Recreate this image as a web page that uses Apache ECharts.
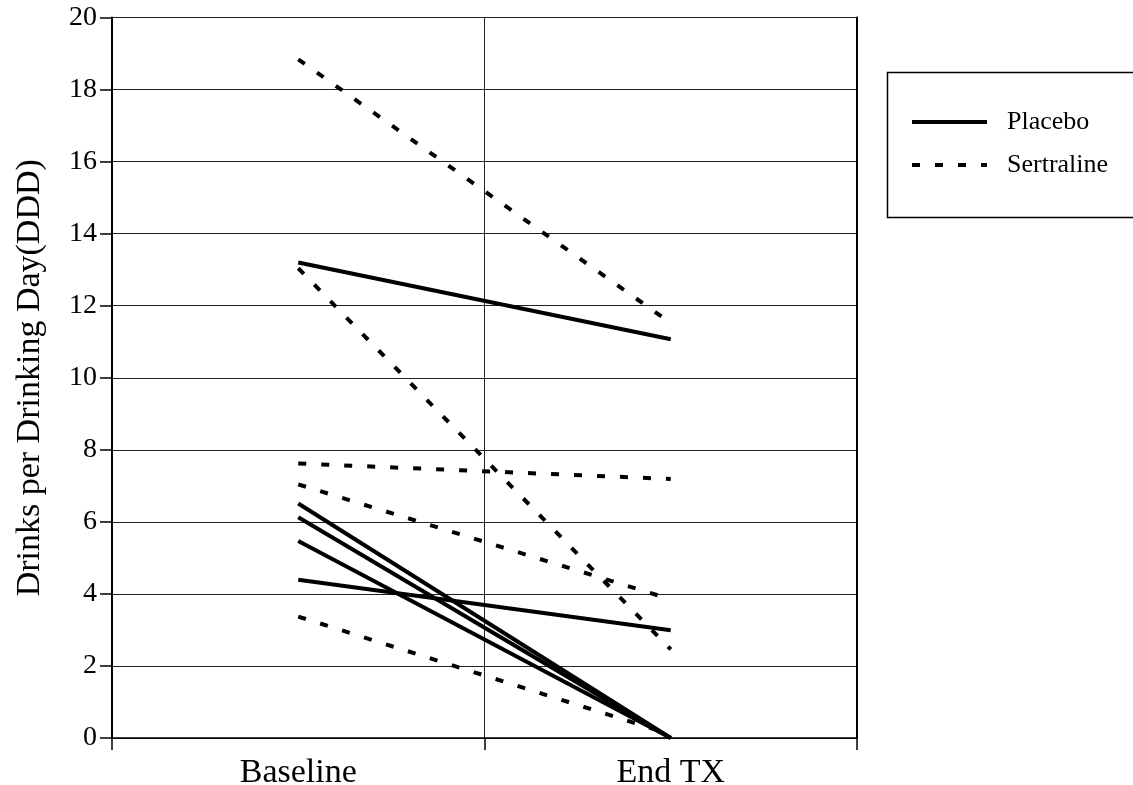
<!DOCTYPE html>
<html>
<head>
<meta charset="utf-8">
<script src="https://cdn.jsdelivr.net/npm/echarts@6/dist/echarts.min.js"></script>
<style>html,body{margin:0;padding:0;background:#fff}#c{width:1133px;height:785px}</style>
</head>
<body>
<div id="c"></div>
<script>
const categories = ['Baseline', 'End TX'];
const placeboBaseline = [13.2, 6.51, 6.13, 5.47, 4.39];
const placeboEnd = [11.07, 0, 0, 0, 2.99];
const sertralineBaseline = [18.84, 13.04, 7.62, 7.04, 3.37];
const sertralineEnd = [11.52, 2.46, 7.19, 3.85, 0.1];
const yMin = 0, yMax = 20, yStep = 2;
const yAxisTitle = 'Drinks per Drinking Day(DDD)';
const groupNames = ['Placebo', 'Sertraline'];

const FONT = "'Liberation Serif', 'Times New Roman', serif";
const series = [];
placeboBaseline.forEach((v, i) => {
  series.push({
    name: groupNames[0], type: 'line', symbol: 'none', silent: true,
    data: [v, placeboEnd[i]],
    lineStyle: { color: '#000', width: 4, type: 'solid', cap: 'butt' },
    itemStyle: { color: '#000' }
  });
});
sertralineBaseline.forEach((v, i) => {
  series.push({
    name: groupNames[1], type: 'line', symbol: 'none', silent: true,
    data: [v, sertralineEnd[i]],
    lineStyle: { color: '#000', width: 4, type: [8, 15], cap: 'butt' },
    itemStyle: { color: '#000' }
  });
});

const chart = echarts.init(document.getElementById('c'), null, { renderer: 'canvas' });
chart.setOption({
  animation: false,
  backgroundColor: '#fff',
  grid: { left: 112, right: 276, top: 17.5, bottom: 47, containLabel: false, outerBoundsMode: 'none' },
  xAxis: {
    type: 'category', data: categories, boundaryGap: true,
    axisLine: { show: true, lineStyle: { color: '#000', width: 1.5 } },
    axisTick: { show: true, length: 12, lineStyle: { color: '#000', width: 1.5 } },
    splitLine: { show: true, lineStyle: { color: '#222', width: 1 } },
    axisLabel: { color: '#000', fontFamily: FONT, fontSize: 34, margin: 18 }
  },
  yAxis: [{
    type: 'value', min: yMin, max: yMax, interval: yStep,
    name: yAxisTitle, nameLocation: 'middle', nameGap: 65, nameRotate: 90,
    nameTextStyle: { color: '#000', fontFamily: FONT, fontSize: 34 },
    axisLine: { show: true, lineStyle: { color: '#000', width: 2 } },
    axisTick: { show: true, length: 12, lineStyle: { color: '#000', width: 1.5 } },
    splitLine: { show: true, lineStyle: { color: '#222', width: 1 } },
    axisLabel: { color: '#000', fontFamily: FONT, fontSize: 28, margin: 15 }
  }, {
    type: 'value', min: yMin, max: yMax, interval: yStep, position: 'right',
    axisLine: { show: true, lineStyle: { color: '#000', width: 2 } },
    axisTick: { show: false }, axisLabel: { show: false }, splitLine: { show: false }
  }],
  legend: {
    data: groupNames, orient: 'vertical', left: 910, top: 107, padding: 0,
    itemWidth: 75, itemHeight: 14, itemGap: 13,
    itemStyle: { color: 'transparent', borderWidth: 0, opacity: 0 },
    lineStyle: { width: 4, color: '#000' },
    textStyle: { color: '#000', fontFamily: FONT, fontSize: 26, lineHeight: 30, padding: [0, 0, 0, 15] },
    selectedMode: false
  },
  graphic: [{
    type: 'rect', left: 885, top: 70, silent: true,
    shape: { width: 260, height: 145 },
    style: { fill: 'none', stroke: '#000', lineWidth: 1.5 }
  }],
  series: series
});
</script>
</body>
</html>
